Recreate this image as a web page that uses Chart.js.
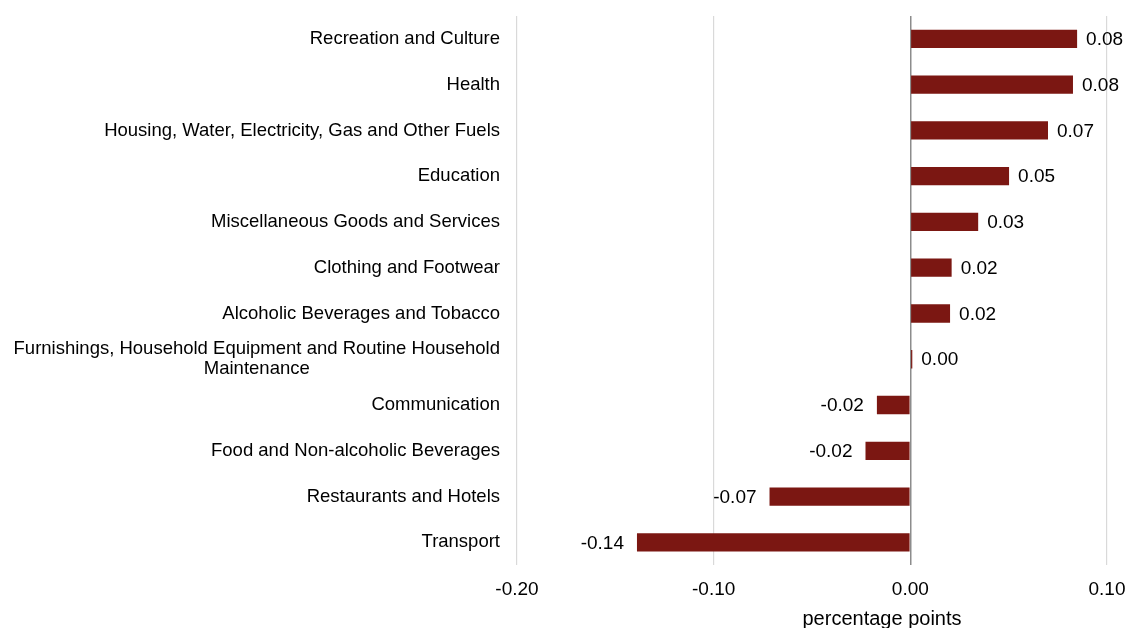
<!DOCTYPE html>
<html>
<head>
<meta charset="utf-8">
<script src="https://cdn.jsdelivr.net/npm/chart.js@4"></script>
<style>
  html, body { margin: 0; padding: 0; background: #fff; }
  #wrap { width: 1130px; height: 628px; }
</style>
</head>
<body>
<div id="wrap"><canvas id="canvas"></canvas></div>
<script>
// categories, top to bottom
var categories = [
    ["Recreation and Culture"],
    ["Health"],
    ["Housing, Water, Electricity, Gas and Other Fuels"],
    ["Education"],
    ["Miscellaneous Goods and Services"],
    ["Clothing and Footwear"],
    ["Alcoholic Beverages and Tobacco"],
    ["Furnishings, Household Equipment and Routine Household", "Maintenance"],
    ["Communication"],
    ["Food and Non-alcoholic Beverages"],
    ["Restaurants and Hotels"],
    ["Transport"]
];
// contribution, percentage points
var contributions = [0.0848, 0.0827, 0.0700, 0.0502, 0.0345, 0.0210, 0.0202, 0.0010, -0.0170, -0.0228, -0.0716, -0.1390];
var xTicks = [-0.20, -0.10, 0.00, 0.10];
var axisTitle = "percentage points";

var FONT = "'Liberation Sans', Arial, sans-serif";

// category labels drawn by hand so wrapped lines are centred like the original
var catLabels = {
    id: 'catLabels',
    afterDraw: function (chart) {
        var ctx = chart.ctx, y = chart.scales.y;
        ctx.save();
        ctx.font = "18.5px " + FONT;
        ctx.fillStyle = "#000";
        ctx.textBaseline = "middle";
        categories.forEach(function (lines, i) {
            var cy = y.getPixelForTick(i);
            if (lines.length === 1) {
                ctx.textAlign = "right";
                ctx.fillText(lines[0], 500, cy);
            } else {
                var w = ctx.measureText(lines[0]).width;
                var cx = 500 - w / 2;
                ctx.textAlign = "center";
                ctx.fillText(lines[0], cx, cy - 10);
                ctx.fillText(lines[1], cx, cy + 10);
            }
        });
        ctx.restore();
    }
};

// value labels at the bar ends + axis title
var valueLabels = {
    id: 'valueLabels',
    afterDatasetsDraw: function (chart) {
        var ctx = chart.ctx, meta = chart.getDatasetMeta(0);
        ctx.save();
        ctx.font = "19px " + FONT;
        ctx.fillStyle = "#000";
        ctx.textBaseline = "middle";
        meta.data.forEach(function (bar, i) {
            var v = contributions[i];
            var txt = v.toFixed(2);
            if (v >= 0) {
                ctx.textAlign = "left";
                ctx.fillText(txt, bar.x + 9, bar.y + 1);
            } else {
                ctx.textAlign = "right";
                ctx.fillText(txt, bar.x - 13, bar.y + 1);
            }
        });
        ctx.font = "20px " + FONT;
        ctx.textAlign = "center";
        ctx.fillText(axisTitle, 882, 619);
        ctx.restore();
    }
};

var config = {
    type: 'bar',
    data: {
        labels: categories.map(function (c) { return c.join(' '); }),
        datasets: [{
            data: contributions,
            backgroundColor: '#7b1712',
            borderWidth: 0,
            barPercentage: 0.4,
            categoryPercentage: 1.0
        }]
    },
    options: {
        indexAxis: 'y',
        responsive: true,
        maintainAspectRatio: false,
        animation: false,
        layout: { padding: { left: 509, right: 23, top: 16, bottom: 14 } },
        plugins: {
            legend: { display: false },
            tooltip: { enabled: false }
        },
        scales: {
            x: {
                min: -0.2,
                max: 0.1,
                afterBuildTicks: function (scale) {
                    scale.ticks = xTicks.map(function (v) { return { value: v }; });
                },
                afterFit: function (scale) {
                    scale.paddingLeft = 0;
                    scale.paddingRight = 0;
                },
                ticks: {
                    color: '#000',
                    font: { family: FONT, size: 19 },
                    padding: 13,
                    maxRotation: 0,
                    callback: function (v) { return Number(v).toFixed(2); }
                },
                grid: {
                    drawTicks: false,
                    lineWidth: function (c) { return c.tick && c.tick.value === 0 ? 1.5 : 1.2; },
                    color: function (c) { return c.tick && c.tick.value === 0 ? '#8c8c8c' : '#d9d9d9'; }
                },
                border: { display: false }
            },
            y: {
                ticks: { display: false },
                grid: { display: false },
                border: { display: false }
            }
        }
    },
    plugins: [catLabels, valueLabels]
};

window.onload = function () {
    window.myBar = new Chart(document.getElementById("canvas"), config);
};
</script>
</body>
</html>
